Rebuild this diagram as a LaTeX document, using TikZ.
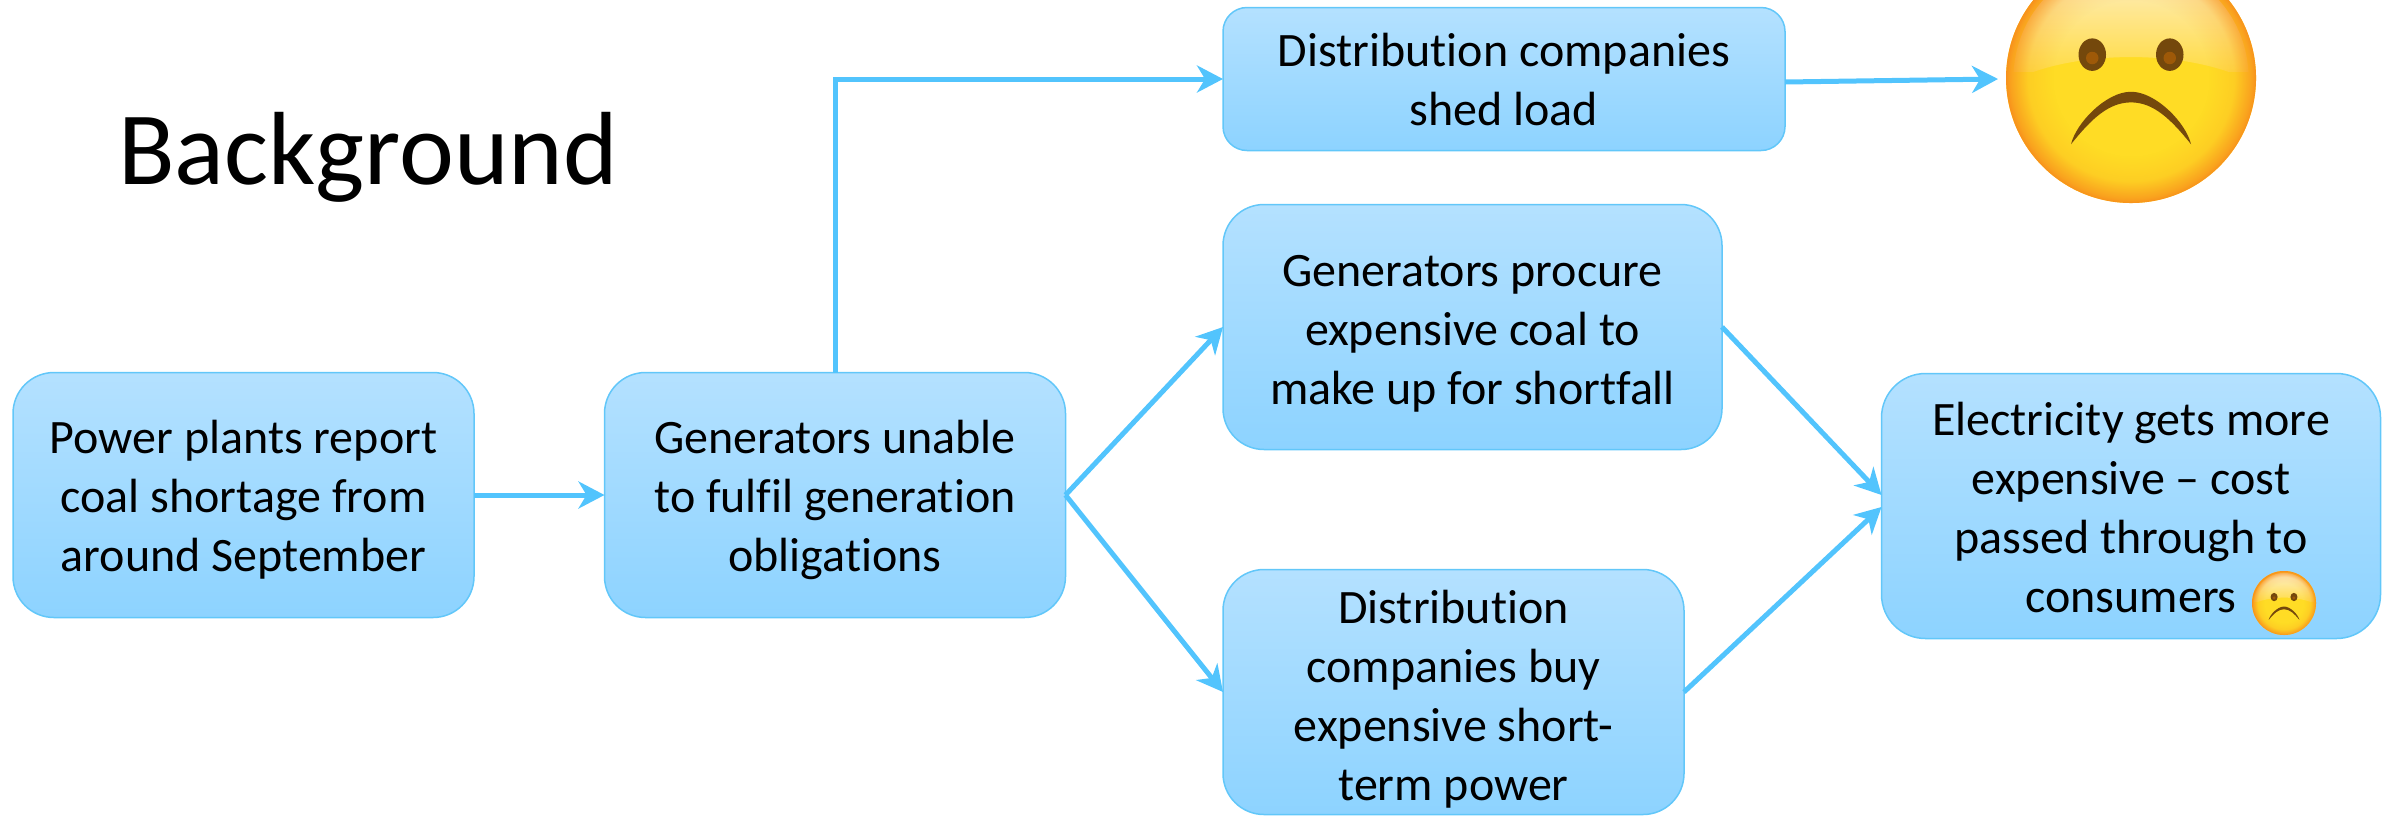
\documentclass[tikz,border=0pt]{standalone}
\usepackage{fontspec}
\setmainfont[Ligatures=NoCommon]{Carlito}
\usetikzlibrary{arrows.meta,calc,fadings}
\definecolor{linkblue}{HTML}{52C4FD}
\definecolor{edgeblue}{HTML}{62C7F9}
\definecolor{boxtop}{HTML}{B4E1FF}
\definecolor{boxbot}{HTML}{8DD3FF}
\definecolor{faceyellow}{HTML}{FFDC25}
\definecolor{faceorange}{HTML}{F8901C}
\definecolor{featbrown}{HTML}{74480C}
\definecolor{glosstop}{HTML}{FEF0D2}
\definecolor{glossbot}{HTML}{FFDC45}
\pgfdeclareradialshading{rimshade}{\pgfpoint{0bp}{0bp}}{%
  color(0bp)=(black); color(15.5bp)=(black); color(20.5bp)=(black!82!white);
  color(24bp)=(black!25!white); color(25bp)=(white); color(50bp)=(white)}
\pgfdeclarefading{rimfade}{\pgfuseshading{rimshade}}
\newcommand{\sadface}[3]{%
  \begin{scope}[shift={(#1,#2)},x=#3pt,y=#3pt]
    \fill[faceyellow] (0,0) circle (1);
    \begin{scope}
      \clip (0,0) circle (0.94);
      \clip (-1,-0.05) .. controls (-0.5,0.24) and (0.5,0.24) .. (1,-0.05) -- (1,1) -- (-1,1) -- cycle;
      \shade[top color=glosstop,bottom color=glossbot] (-1,0.05) rectangle (1,0.97);
    \end{scope}
    \fill[faceorange,path fading=rimfade] (0,0) circle (1);
    \fill[featbrown] (-0.31,0.187) ellipse (0.11 and 0.13);
    \fill[featbrown] (0.31,0.187) ellipse (0.11 and 0.13);
    \fill[featbrown!70!orange] (-0.31,0.16) circle (0.05);
    \fill[featbrown!70!orange] (0.31,0.16) circle (0.05);
    \fill[featbrown] (-0.48,-0.53) .. controls (-0.44,-0.36) and (-0.2,-0.11) .. (0,-0.11)
      .. controls (0.2,-0.11) and (0.44,-0.36) .. (0.48,-0.53)
      .. controls (0.32,-0.33) and (0.18,-0.195) .. (0,-0.195)
      .. controls (-0.18,-0.195) and (-0.32,-0.33) .. (-0.48,-0.53) -- cycle;
  \end{scope}}
\tikzset{
  flowbox/.style={draw=edgeblue,line width=1.5pt,top color=boxtop,bottom color=boxbot,
    inner sep=0pt,outer sep=0pt,align=center,text=black,text depth=0pt,
    font=\fontsize{48}{59}\selectfont}, 
  link/.style={draw=linkblue,line width=5pt,-{Stealth[length=26pt,width=27pt,inset=8pt]}},
  facemark/.style={circle,inner sep=0pt,outer sep=0pt}
}
\begin{document}
\begin{tikzpicture}[x=1pt,y=-1pt]
\useasboundingbox (0,0) rectangle (2400,815);
\node[anchor=base west,inner sep=0pt,font=\fontsize{104}{120}\selectfont] (title) at (118,184) {Background};
\node[flowbox,rounded corners=41pt,minimum width=461pt,minimum height=245pt] (plants) at (243.5,495) {\rule{0pt}{35pt}Power plants report\\coal shortage from\\around September};
\node[flowbox,rounded corners=41pt,minimum width=461pt,minimum height=245pt] (gens) at (835,495) {\rule{0pt}{35pt}Generators unable\\to fulfil generation\\obligations};
\node[flowbox,rounded corners=24pt,minimum width=562pt,minimum height=143pt] (shed) at (1504,79) {Distribution companies\\shed load};
\node[flowbox,rounded corners=41pt,minimum width=499pt,minimum height=245pt] (procure) at (1472.5,327) {\rule{0pt}{36pt}Generators procure\\expensive coal to\\make up for shortfall};
\node[flowbox,rounded corners=41pt,minimum width=461pt,minimum height=245pt] (buy) at (1453.5,692) {\rule{0pt}{39pt}Distribution\\companies buy\\expensive short-\\term power};
\node[flowbox,rounded corners=44pt,minimum width=499pt,minimum height=265pt] (dearer) at (2131,506) {\rule{0pt}{36pt}Electricity gets more\\expensive – cost\\passed through to\\consumers};
\node[facemark,minimum size=250pt] (bigface) at (2131,78) {};
\sadface{2131}{78}{125}
\node[facemark,minimum size=64pt] (smallface) at (2284,603) {};
\sadface{2284}{603}{32}
\coordinate (shedout) at ($(shed.east)+(0,3)$);
\coordinate (faceend) at ($(bigface.west)+(-8,1)$);
\coordinate (proin) at ($(dearer.west)+(0,-11)$);
\coordinate (buyin) at ($(dearer.west)+(0,1)$);
\draw[link] (plants) -- (gens);
\draw[link] (gens.north) |- (shed.west);
\draw[link] (gens.east) -- (procure.west);
\draw[link] (gens.east) -- (buy.west);
\draw[link] (shedout) -- (faceend);
\draw[link] (procure.east) -- (proin);
\draw[link] (buy.east) -- (buyin);
\end{tikzpicture}
\end{document}
